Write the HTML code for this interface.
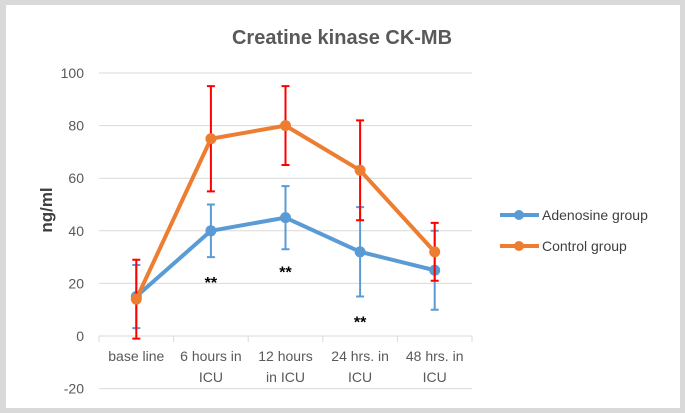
<!DOCTYPE html>
<html><head><meta charset="utf-8"><style>
body{margin:0;background:#d9d9d9;}
svg{display:block;font-family:"Liberation Sans",sans-serif;}
</style></head><body>
<svg width="685" height="413">
<rect x="0" y="0" width="685" height="413" fill="#d9d9d9"/>
<rect x="6" y="5" width="674" height="403" fill="#fff"/>
<text x="342" y="44" text-anchor="middle" font-size="20" font-weight="bold" fill="#595959">Creatine kinase CK-MB</text>
<text transform="translate(52,210) rotate(-90)" text-anchor="middle" font-size="17" font-weight="bold" fill="#404040">ng/ml</text>
<g id="grid"></g><g id="xaxis"></g><g id="series"></g>
<g>
<g><line x1="500" y1="215" x2="539" y2="215" stroke="#5b9bd5" stroke-width="4"/><circle cx="519" cy="215" r="5" fill="#5b9bd5"/><text x="542" y="220" font-size="14" fill="#404040">Adenosine group</text></g>
<g><line x1="500" y1="246" x2="539" y2="246" stroke="#ed7d31" stroke-width="4"/><circle cx="519" cy="246" r="5" fill="#ed7d31"/><text x="542" y="251" font-size="14" fill="#404040">Control group</text></g>
</g>
</svg>
<script>
const categories=[["base line"],["6 hours in","ICU"],["12 hours","in ICU"],["24 hrs. in","ICU"],["48 hrs. in","ICU"]];
const yTicks=[-20,0,20,40,60,80,100];
const adenosine=[15,40,45,32,25];
const adenosineLo=[3,30,33,15,10];
const adenosineHi=[27,50,57,49,40];
const control=[14,75,80,63,32];
const controlLo=[-1,55,65,44,21];
const controlHi=[29,95,95,82,43];
const stars=[null,22,26,7,null];
const NS="http://www.w3.org/2000/svg";
const x0=99,x1=472;
function xs(i){return x0+(x1-x0)/categories.length*(i+0.5);}
function ys(v){return 336-v*2.63;}
function mk(p,t,a){const e=document.createElementNS(NS,t);for(const k in a)e.setAttribute(k,a[k]);p.appendChild(e);return e;}
const grid=document.getElementById('grid');
yTicks.forEach(v=>{
 const l=mk(grid,'line',{x1:x0,x2:x1,y1:ys(v),y2:ys(v),stroke:'#d9d9d9','stroke-width':1});
 
 
 const t=mk(grid,'text',{x:84,y:ys(v)+5,'text-anchor':'end','font-size':14,fill:'#595959'});t.textContent=v;
 
 
});
const xa=document.getElementById('xaxis');
for(let i=0;i<=categories.length;i++){const xx=x0+(x1-x0)/categories.length*i;
 const tk=mk(xa,'line',{x1:xx,x2:xx,y1:336,y2:342,stroke:'#d9d9d9'});
 
 }
categories.forEach((c,i)=>{c.forEach((s,j)=>{const t=mk(xa,'text',{x:xs(i),y:361+j*21,'text-anchor':'middle','font-size':14,fill:'#595959'});t.textContent=s;
 
 });});
const sg=document.getElementById('series');
function series(vals,lo,hi,col,ecol,name){
 const g=mk(sg,'g',{});
 
 
 const pl=mk(g,'polyline',{points:vals.map((v,i)=>xs(i)+','+ys(v)).join(' '),fill:'none',stroke:col,'stroke-width':4,'stroke-linejoin':'round'});
 
 
 vals.forEach((v,i)=>{
  const x=xs(i),a=ys(lo[i]),b=ys(hi[i]);
  const eb=mk(g,'path',{d:`M${x},${a}V${b}M${x-4},${a}H${x+4}M${x-4},${b}H${x+4}`,stroke:ecol,'stroke-width':2,fill:'none'});
  
  
 });
 return g;
}
const gA=series(adenosine,adenosineLo,adenosineHi,'#5b9bd5','#5b9bd5','adenosine');
const gC=series(control,controlLo,controlHi,'#ed7d31','#ff0000','control');
[[adenosine,gA,'#5b9bd5','adenosine'],[control,gC,'#ed7d31','control']].forEach(([vals,g,col,n])=>{
 vals.forEach((v,i)=>{const c=mk(g,'circle',{cx:xs(i),cy:ys(v),r:5.5,fill:col});
 
 });
});
stars.forEach((v,i)=>{if(v==null)return;const t=mk(sg,'text',{x:xs(i),y:ys(v)+10,'text-anchor':'middle','font-size':16,'font-weight':'bold',fill:'#000'});t.textContent='**';
 
 });
</script>
</body></html>
